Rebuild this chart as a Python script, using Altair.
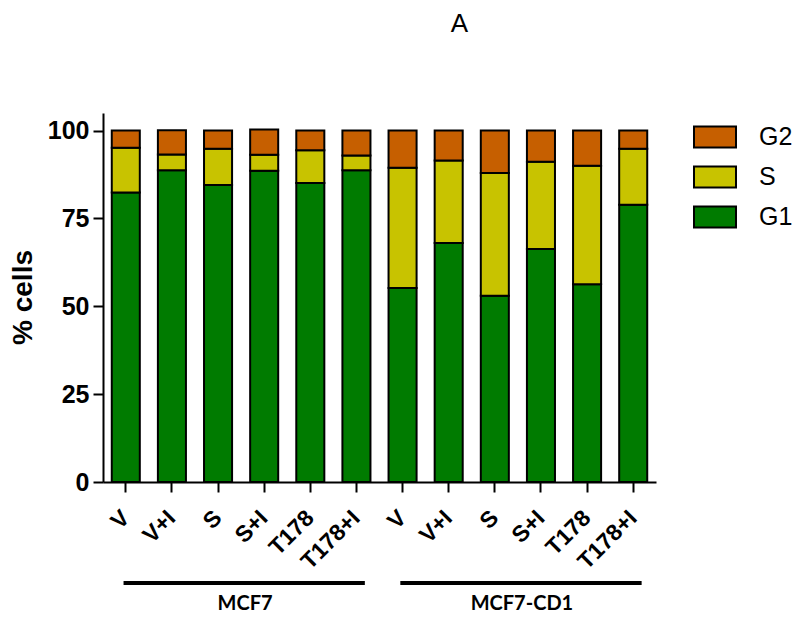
import altair as alt
import pandas as pd

# ---- data ----
treatments = ["V", "V+I", "S", "S+I", "T178", "T178+I"]
cell_lines = ["MCF7", "MCF7-CD1"]
g1_values = [82.4, 88.7, 84.5, 88.6, 85.1, 88.7, 55.2, 68.0, 53.0, 66.3, 56.3, 78.9]
s_values = [12.7, 4.5, 10.3, 4.5, 9.3, 4.2, 34.2, 23.5, 34.9, 24.8, 33.7, 15.9]
g2_values = [4.9, 6.9, 5.2, 7.2, 5.6, 7.1, 10.6, 8.5, 12.1, 8.9, 10.0, 5.2]
phases = ["G1", "S", "G2"]
phase_colors = {"G2": "#C65F00", "S": "#C8C300", "G1": "#007B00"}
y_ticks = [0, 25, 50, 75, 100]
panel_title = "A"

# ---- build tables ----
ids = [f"{cl}|{t}" for cl in cell_lines for t in treatments]
series = {"G1": g1_values, "S": s_values, "G2": g2_values}
rows = []
for i, cid in enumerate(ids):
    for k, ph in enumerate(phases):
        rows.append({"id": cid, "phase": ph, "order": k, "value": series[ph][i]})
df = pd.DataFrame(rows)

groups = pd.DataFrame({
    "group": cell_lines,
    "first": [f"{cl}|{treatments[0]}" for cl in cell_lines],
    "last": [f"{cl}|{treatments[-1]}" for cl in cell_lines],
    "mid": [f"{cl}|{treatments[3]}" for cl in cell_lines],
})
title_df = pd.DataFrame({"t": [panel_title]})

legend_domain = ["G2", "S", "G1"]
xscale = alt.Scale(domain=ids, paddingInner=0.392, paddingOuter=0.19)

bars = alt.Chart(df).mark_bar(stroke="black", strokeWidth=2).encode(
    x=alt.X("id:N", scale=xscale, sort=None, title=None,
            axis=alt.Axis(labelExpr="split(datum.label, '|')[1]", labelAngle=-45,
                          labelAlign="right", labelBaseline="middle", labelPadding=22,
                          labelFont="Liberation Sans", labelFontWeight="bold", labelFontSize=23,
                          labelColor="black", domainColor="black", domainWidth=2,
                          tickColor="black", tickWidth=2, tickSize=10, title=None)),
    y=alt.Y("value:Q", stack="zero",
            scale=alt.Scale(domain=[0, 105], nice=False),
            axis=alt.Axis(values=y_ticks, title="% cells", grid=False,
                          labelFont="Liberation Sans", labelFontWeight="bold", labelFontSize=25,
                          labelColor="black", labelPadding=4,
                          domainColor="black", domainWidth=2,
                          tickColor="black", tickWidth=2, tickSize=10,
                          titleFont="Liberation Sans", titleFontWeight="bold", titleFontSize=28,
                          titleColor="black", titleAngle=270, titleAlign="center",
                          titleBaseline="alphabetic", titleX=-72, titleY=184)),
    color=alt.Color("phase:N",
                    scale=alt.Scale(domain=legend_domain,
                                    range=[phase_colors[p] for p in legend_domain]),
                    legend=alt.Legend(title=None, orient="none", legendX=590, legendY=2,
                                      symbolType="M-1,-0.5L1,-0.5L1,0.5L-1,0.5Z",
                                      symbolSize=1764, symbolStrokeColor="black",
                                      symbolStrokeWidth=2, symbolOpacity=1,
                                      labelFont="Liberation Sans", labelFontSize=25,
                                      labelColor="black", labelOffset=22, rowPadding=3,
                                      padding=0)),
    order=alt.Order("order:Q", sort="ascending"),
)

rules = alt.Chart(groups).mark_rule(color="black", strokeWidth=4).encode(
    x=alt.X("first:N", scale=xscale, bandPosition=0.42, title=None),
    x2=alt.X2("last:N", bandPosition=0.8),
    y=alt.value(470),
)

labels = alt.Chart(groups).mark_text(
    font="Lato", fontWeight="bold", fontSize=20, color="black",
    baseline="middle", align="center", dx=-5,
).encode(
    x=alt.X("mid:N", scale=xscale, bandPosition=0, title=None),
    y=alt.value(491),
    text="group:N",
)

title_mark = alt.Chart(title_df).mark_text(
    font="Liberation Sans", fontSize=26, fontWeight="normal", color="black",
    baseline="alphabetic", align="center",
).encode(
    x=alt.value(356.5),
    y=alt.value(-81),
    text="t:N",
)

chart = alt.layer(bars, rules, labels, title_mark).properties(
    width=553, height=369,
    autosize=alt.AutoSizeParams(type="none"),
    padding={"left": 95, "top": 105, "right": 136, "bottom": 131},
).configure_view(strokeWidth=0)

chart.save("out.html", embed_options={"renderer": "svg", "actions": False})
